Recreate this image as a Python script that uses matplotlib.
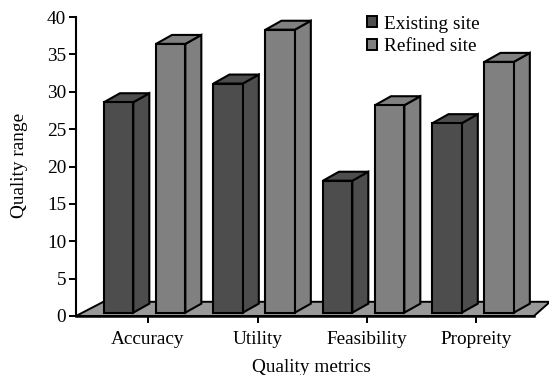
import numpy as np
import matplotlib
matplotlib.use("Agg")
import matplotlib.pyplot as plt
from matplotlib.patches import Polygon, Patch

categories = ["Accuracy", "Utility", "Feasibility", "Propreity"]
existing = [28.6, 31.1, 18.1, 25.8]
refined = [36.4, 38.3, 28.2, 34.0]
yticks = [0, 5, 10, 15, 20, 25, 30, 35, 40]

dark = "#4d4d4d"
light = "#808080"
floor = "#999999"

plt.rcParams["font.family"] = ["Liberation Serif", "DejaVu Serif"]
plt.rcParams["font.size"] = 13.9

# 3d look of the old excel chart, depth in data units
dx = 0.146
dy = 1.2
width = 0.268
base = 0.45


def bar3d(ax, x, top, color):
    edge = dict(edgecolor="black", linewidth=1.5, joinstyle="miter", clip_on=False)
    ax.add_patch(Polygon([(x + width, base), (x + width + dx, base + dy),
                          (x + width + dx, top + dy), (x + width, top)],
                         facecolor=color, zorder=3, **edge))
    ax.add_patch(Polygon([(x, top), (x + dx, top + dy),
                          (x + width + dx, top + dy), (x + width, top)],
                         facecolor=color, zorder=3, **edge))
    ax.add_patch(Polygon([(x, base), (x + width, base), (x + width, top), (x, top)],
                         facecolor=color, zorder=4, **edge))


fig = plt.figure(figsize=(5.49, 3.75), dpi=100)
ax = fig.add_axes([76 / 549, 1 - 316 / 375, (549 - 76) / 549, 299 / 375])
ax.set_xlim(-72 / 109.5, 401 / 109.5)
ax.set_ylim(0, 40)

# floor
x0 = -72 / 109.5
x1 = 386 / 109.5
ax.add_patch(Polygon([(x0, 0), (x0 + 0.25, 1.9), (x1 + dx, 1.9), (x1, 0)],
                     facecolor=floor, edgecolor="black", linewidth=1.4,
                     clip_on=False, zorder=1))

for i in range(len(categories)):
    bar3d(ax, i - 0.402, existing[i], dark)
    bar3d(ax, i + 0.073, refined[i], light)

ax.spines["top"].set_visible(False)
ax.spines["right"].set_visible(False)
ax.spines["left"].set_linewidth(1.5)
ax.spines["bottom"].set_linewidth(1.8)
ax.spines["bottom"].set_bounds(x0, x1)
ax.spines["bottom"].set_zorder(2)

ax.set_xticks(range(len(categories)))
ax.set_xticklabels(categories)
ax.set_yticks(yticks)
ax.tick_params(axis="both", length=5, width=1.4)
ax.tick_params(axis="x", pad=6)
ax.tick_params(axis="y", pad=2)

fig.text(20 / 549, 1 - 165 / 375, "Quality range", rotation=90, ha="center", va="center")
fig.text(311 / 549, 1 - 367 / 375, "Quality metrics", ha="center", va="center")

handles = [Patch(facecolor=dark, edgecolor="black", linewidth=1.4, label="Existing site"),
           Patch(facecolor=light, edgecolor="black", linewidth=1.4, label="Refined site")]
ax.legend(handles=handles, loc="upper left", bbox_to_anchor=(291 / 473, 1.005), frameon=False,
          handlelength=0.5, handleheight=0.5, handletextpad=0.4, labelspacing=0.3,
          borderpad=0, borderaxespad=0)

fig.savefig("out.png", dpi=100)
